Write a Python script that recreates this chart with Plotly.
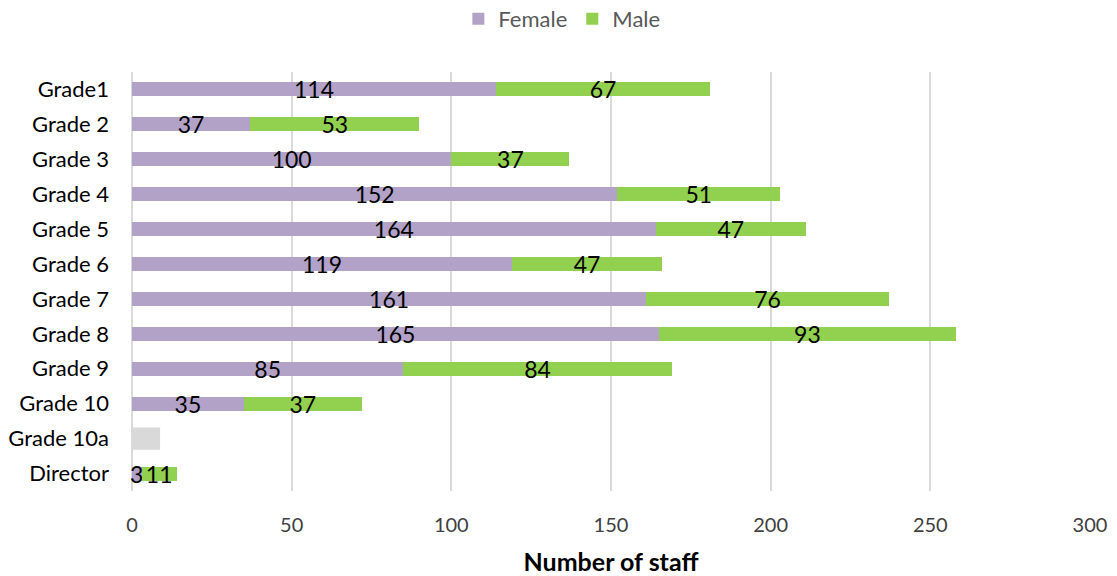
import plotly.graph_objects as go

categories = ["Grade1", "Grade 2", "Grade 3", "Grade 4", "Grade 5", "Grade 6",
              "Grade 7", "Grade 8", "Grade 9", "Grade 10", "Grade 10a", "Director"]
female = [114, 37, 100, 152, 164, 119, 161, 165, 85, 35, None, 3]
male = [67, 53, 37, 51, 47, 47, 76, 93, 84, 37, None, 11]
x_ticks = [0, 50, 100, 150, 200, 250, 300]

FONT = "Lato, 'Open Sans', sans-serif"

def labels(vals):
    return ["" if v is None else str(v) for v in vals]

fig = go.Figure()
for name, vals, color in [("Female", female, "#b3a2c7"), ("Male", male, "#92d050")]:
    fig.add_trace(go.Bar(
        y=categories, x=vals, name=name, orientation="h",
        marker=dict(color=color, line=dict(width=0)),
        text=labels(vals), textposition="inside", insidetextanchor="middle",
        textangle=0, constraintext="none", cliponaxis=False,
        textfont=dict(size=23, color="#000000", family=FONT),
    ))

# grey box covering the Grade 10a row
fig.add_shape(type="rect", xref="x", yref="y",
              x0=-2.2, x1=8.8, y0=10 - 0.32, y1=10 + 0.32,
              fillcolor="#d9d9d9", line=dict(width=0), layer="above")

fig.update_layout(
    barmode="stack",
    bargap=0.6,
    width=1117, height=576,
    margin=dict(l=132, r=27, t=72, b=85, autoexpand=False),
    paper_bgcolor="white", plot_bgcolor="white",
    font=dict(family=FONT, color="#404040"),
    legend=dict(orientation="h", xref="container", yref="container",
                x=0.503, xanchor="center", y=0.967, yanchor="middle",
                font=dict(size=22, color="#595959"), traceorder="normal"),
    showlegend=True,
)
fig.update_xaxes(
    range=[0, 300], tickvals=x_ticks, ticktext=[str(t) for t in x_ticks],
    showgrid=True, gridcolor="#d9d9d9", gridwidth=2,
    zeroline=True, zerolinecolor="#d9d9d9", zerolinewidth=2,
    showline=False, tickfont=dict(size=20, color="#404040"),
    ticks="", ticklabelstandoff=20, automargin=False,
    title=dict(text="<b>Number of staff</b>", font=dict(size=25, color="#000000"), standoff=18),
)
fig.update_yaxes(
    categoryorder="array", categoryarray=categories, autorange="reversed",
    showgrid=False, showline=False, zeroline=False, ticks="",
    tickfont=dict(size=22, color="#000000"), ticklabelstandoff=22, automargin=False,
)

fig.write_html("out.html", config={"displayModeBar": False},
               post_script="document.body.style.margin='0px';")
